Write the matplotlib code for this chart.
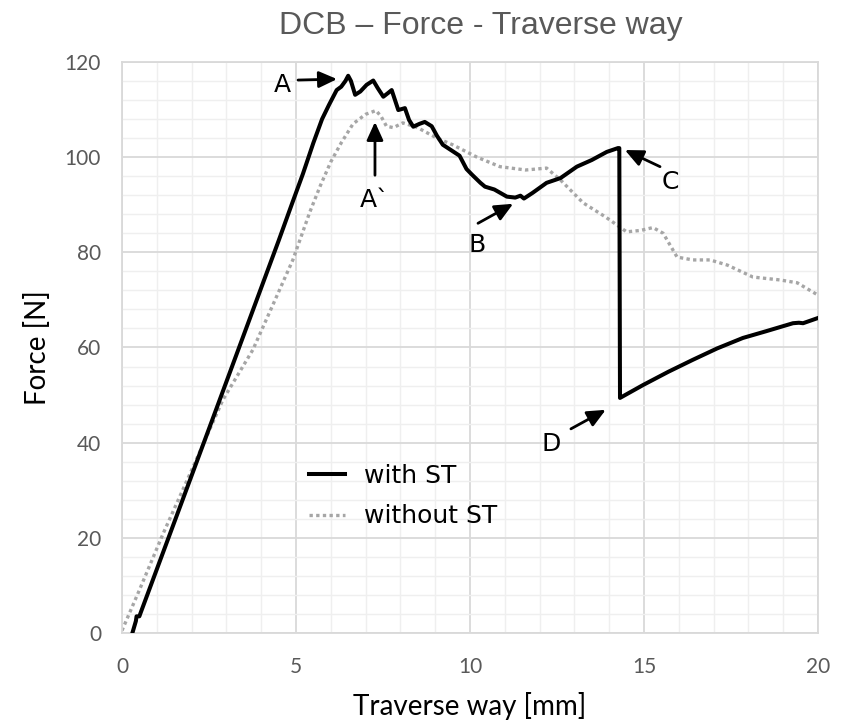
import matplotlib
matplotlib.use("Agg")
from matplotlib import pyplot as plt
from matplotlib.ticker import MultipleLocator

# curva con ST
x_st = [0.3, 0.4, 0.42, 0.5, 0.55, 1.5, 2.5, 3.68, 4.5, 4.9, 5.2, 5.5, 5.75, 5.95,
        6.17, 6.3, 6.42, 6.5, 6.58, 6.7, 6.85, 7.03, 7.22, 7.35, 7.51, 7.65, 7.75,
        7.94, 8.13, 8.25, 8.37, 8.55, 8.7, 8.9, 9.05, 9.22, 9.45, 9.7, 9.9, 10.06,
        10.3, 10.43, 10.7, 11.06, 11.3, 11.45, 11.55, 11.8, 12.2, 12.6, 13.07, 13.5,
        13.93, 14.25, 14.29, 14.31, 14.97, 15.7, 16.4, 17.1, 17.84, 18.5, 19.28,
        19.45, 19.57, 20.0]
y_st = [0.0, 2.5, 3.5, 3.5, 4.5, 23.2, 42.9, 66.2, 82.4, 90.5, 96.5, 103.0, 108.0,
        111.0, 114.1, 114.8, 116.0, 117.1, 116.0, 113.1, 113.8, 115.2, 116.1, 114.5,
        112.7, 113.5, 114.1, 109.9, 110.3, 107.8, 106.4, 107.0, 107.4, 106.5, 104.5,
        102.6, 101.5, 100.3, 97.5, 96.3, 94.6, 93.8, 93.2, 91.7, 91.5, 91.9, 91.3,
        92.5, 94.6, 95.6, 98.0, 99.4, 101.1, 101.9, 101.9, 49.4, 52.1, 54.9, 57.4,
        59.8, 62.0, 63.4, 65.1, 65.2, 65.1, 66.2]

# curva sin ST
x_no = [0.0, 0.5, 1.19, 2.05, 2.9, 3.76, 4.4, 4.91, 5.4, 5.7, 6.0, 6.3, 6.64, 7.0,
        7.3, 7.45, 7.6, 7.8, 8.07, 8.47, 9.05, 9.5, 10.2, 10.86, 11.6, 12.2, 12.6,
        13.25, 13.9, 14.5, 14.9, 15.26, 15.55, 15.95, 16.4, 16.9, 17.4, 18.13, 18.9,
        19.4, 20.0]
y_no = [0.5, 9.0, 21.0, 35.0, 49.0, 59.5, 70.0, 78.4, 88.5, 94.0, 99.0, 103.0,
        107.0, 109.0, 109.8, 108.5, 106.5, 106.2, 107.2, 106.3, 104.0, 102.6, 100.0,
        98.0, 97.3, 97.7, 95.2, 90.4, 87.4, 84.3, 84.6, 85.2, 84.0, 79.0, 78.4, 78.4,
        77.3, 74.8, 74.2, 73.6, 71.0]

# etiquetas: texto, posicion del texto, cola y punta de la flecha
etiquetas = ["A", "A`", "B", "C", "D"]
pos_texto = [(4.6, 115.2), (7.27, 91.0), (10.2, 81.5), (15.75, 94.8), (12.33, 39.7)]
cola = [(5.06, 116.2), (7.27, 96.2), (10.23, 86.1), (15.46, 98.0), (12.9, 42.9)]
punta = [(6.18, 116.4), (7.27, 107.4), (11.24, 90.2), (14.45, 101.5), (13.9, 46.9)]

gris = "#595959"

fig = plt.figure(figsize=(8.41, 7.24), dpi=100)
ax = fig.add_axes([0.145, 0.1257, 0.8277, 0.7887])

ax.plot(x_st, y_st, color="black", lw=2.9, label="with ST", zorder=3)
ax.plot(x_no, y_no, color="#a6a6a6", lw=2.4, linestyle=(0, (1, 1)),
        label="without ST", zorder=2)

ax.set_xlim(0, 20)
ax.set_ylim(0, 120)
ax.xaxis.set_major_locator(MultipleLocator(5))
ax.xaxis.set_minor_locator(MultipleLocator(1))
ax.yaxis.set_major_locator(MultipleLocator(20))
ax.yaxis.set_minor_locator(MultipleLocator(4))
ax.grid(True, which="major", color="#d9d9d9", lw=1.3)
ax.grid(True, which="minor", color="#efefef", lw=1.0)
ax.set_axisbelow(True)
for s in ax.spines.values():
    s.set_color("#d9d9d9")
    s.set_linewidth(1.3)
ax.tick_params(which="both", length=0, labelsize=15, labelcolor=gris)
ax.tick_params(axis="x", pad=17)
ax.tick_params(axis="y", pad=15)
for lab in ax.get_xticklabels() + ax.get_yticklabels():
    lab.set_family("Lato")

ax.set_xlabel("Traverse way [mm]", fontsize=20, labelpad=11, family="Lato")
ax.set_ylabel("Force [N]", fontsize=20, labelpad=10, family="Lato")
fig.text(0.572, 1 - 34 / 724, "DCB – Force - Traverse way", ha="center",
         va="baseline", fontsize=23, color=gris, family="Liberation Sans")

for t, p, c, h in zip(etiquetas, pos_texto, cola, punta):
    ax.text(p[0], p[1], t, ha="center", va="center", fontsize=18)
    ax.annotate("", xy=h, xytext=c,
                arrowprops=dict(arrowstyle="-|>,head_length=0.55,head_width=0.25",
                                color="black", lw=2, mutation_scale=20,
                                shrinkA=0, shrinkB=0))

ax.legend(loc="upper left", bbox_to_anchor=(0.236, 0.335), frameon=False,
          fontsize=18, handlelength=1.45, handletextpad=0.75, labelspacing=0.65)

plt.savefig("out.png", dpi=100)
